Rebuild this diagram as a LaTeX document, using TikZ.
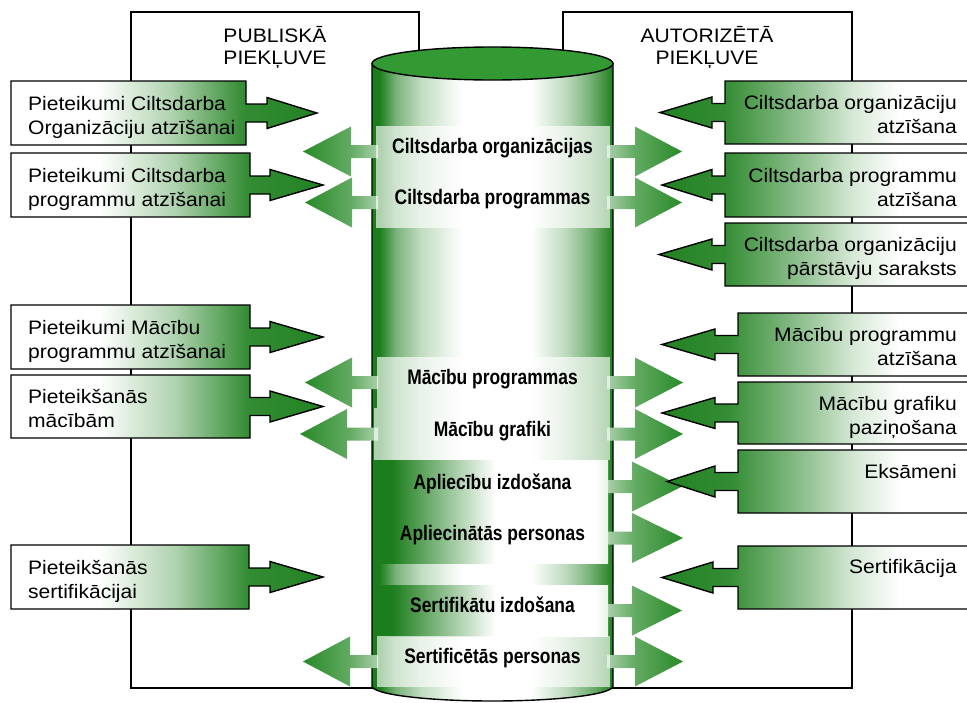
\documentclass[tikz,border=0pt]{standalone}
\usepackage{fontspec}
\setmainfont{Liberation Sans}[FakeStretch=1.08]
\newfontfamily\bandfont{Liberation Sans}[FakeStretch=0.83]
\definecolor{cylgreen}{RGB}{27,125,27}
\definecolor{topgreen}{RGB}{51,153,51}
\definecolor{cgreen}{RGB}{34,130,34}
\definecolor{agreen}{RGB}{40,138,40}
\colorlet{agA}{agreen!72!white}
\colorlet{agB}{agreen!40!white}
\colorlet{bandR}{white!90!cylgreen}
\colorlet{cyA}{cylgreen!85!white}
\colorlet{cyB}{cylgreen!58!white}
\colorlet{cyC}{cylgreen!28!white}
\colorlet{cyD}{cylgreen!8!white}
\colorlet{cgA}{cgreen!92!white}
\colorlet{cgB}{cgreen!45!white}
\colorlet{cgC}{cgreen!35!white}
\colorlet{cgD}{cgreen!18!white}
\pgfdeclarehorizontalshading{cylsh}{100bp}{color(0bp)=(cylgreen); color(26.5bp)=(cylgreen); color(30bp)=(cyB); color(35bp)=(cyC); color(41bp)=(cyD); color(44bp)=(white); color(58bp)=(white); color(65bp)=(cyC); color(70bp)=(cyB); color(73.5bp)=(cyA); color(75bp)=(cylgreen); color(100bp)=(cylgreen)}
\pgfdeclarehorizontalshading{bandsh}{100bp}{color(0bp)=(cylgreen); color(29bp)=(cylgreen); color(51bp)=(white); color(72bp)=(white); color(75bp)=(bandR); color(100bp)=(bandR)}
\pgfdeclarehorizontalshading{larrsh}{100bp}{color(0bp)=(agreen); color(25bp)=(agreen); color(57bp)=(agA); color(75bp)=(agB); color(100bp)=(agB)}
\pgfdeclarehorizontalshading{rarrsh}{100bp}{color(0bp)=(agB); color(25bp)=(agB); color(43bp)=(agA); color(75bp)=(agreen); color(100bp)=(agreen)}
\pgfdeclarehorizontalshading{lcallsh}{100bp}{color(0bp)=(white); color(39bp)=(white); color(51bp)=(cgC); color(63bp)=(cgA); color(75bp)=(cgreen); color(100bp)=(cgreen)}
\pgfdeclarehorizontalshading{rcallsh}{100bp}{color(0bp)=(cgreen); color(25bp)=(cgreen); color(35.5bp)=(cgA); color(49bp)=(cgB); color(56bp)=(cgD); color(63.5bp)=(white); color(100bp)=(white)}
\newcommand{\larr}[3]{\path[shading=larrsh] (378,#1-6.5) -- (#3,#1-6.5) -- (#3,#1-25) -- (#2,#1) -- (#3,#1+25) -- (#3,#1+6.5) -- (378,#1+6.5) -- cycle;}
\newcommand{\rarr}[3]{\path[shading=rarrsh] (607,#1-6.5) -- (#2,#1-6.5) -- (#2,#1-25) -- (#3,#1) -- (#2,#1+25) -- (#2,#1+6.5) -- (607,#1+6.5) -- cycle;}
\newcommand{\lcall}[6]{\draw[callout, shading=lcallsh] (11,#2) -- (#1,#2) -- (#1,#4-9) -- (#5,#4-9) -- (#5,#4-15.5) -- (#6,#4) -- (#5,#4+15.5) -- (#5,#4+9) -- (#1,#4+9) -- (#1,#3) -- (11,#3) -- cycle;}
\newcommand{\rcall}[6]{\draw[callout, shading=rcallsh] (972,#2) -- (#1,#2) -- (#1,#4-9) -- (#5,#4-9) -- (#5,#4-15.5) -- (#6,#4) -- (#5,#4+15.5) -- (#5,#4+9) -- (#1,#4+9) -- (#1,#3) -- (972,#3) -- cycle;}
\tikzset{
  callout/.style={draw=black, line width=1.4pt},
  frame/.style={draw=black, line width=1.4pt},
  heading/.style={align=center, inner sep=0pt, font=\fontsize{19.5}{22}\selectfont},
  ltext/.style={align=left, inner sep=0pt, anchor=base west, font=\fontsize{19.5}{24}\selectfont},
  rtext/.style={align=right, inner sep=0pt, anchor=base east, font=\fontsize{19.5}{24}\selectfont},
  btext/.style={inner sep=0pt, anchor=base, font=\bandfont\bfseries\fontsize{21}{24}\selectfont},
  lightband/.style={fill=white, fill opacity=0.65},
  darkband/.style={shading=bandsh}
}
\begin{document}
\begin{tikzpicture}[x=1pt,y=-1pt]
\useasboundingbox (0,0) rectangle (967,702);
% access frames
\draw[frame] (131,12) rectangle (419,688);
\draw[frame] (563,12) rectangle (852,688);
\node[heading, anchor=base] (pub) at (275,64) {PUBLISKĀ\\PIEKĻUVE};
\node[heading, anchor=base] (aut) at (707,64) {AUTORIZĒTĀ\\PIEKĻUVE};
% cylinder body
\draw[line width=1.4pt, shading=cylsh] (372,63.5) -- (372,686) arc[start angle=180, end angle=0, x radius=120.5, y radius=15] -- (613,63.5) -- cycle;
% arrows from the bands
\larr{151.5}{303}{351}
\larr{202.5}{305}{352}
\larr{382.5}{305}{352}
\larr{434}{300}{347}
\larr{661.5}{303}{350}
\rarr{151.5}{635}{682}
\rarr{202.5}{635}{682}
\rarr{382.5}{635}{683}
\rarr{434}{635}{683}
\rarr{486.5}{632}{682}
\rarr{538}{632}{683}
\rarr{610.5}{632}{682}
\rarr{661.5}{635}{683}
% bands
\path[lightband] (376,126) rectangle (610,177);
\path[lightband] (376,177) rectangle (610,228);
\path[lightband] (377,357) rectangle (610,408);
\path[lightband] (374,408) rectangle (610,460);
\path[darkband] (373,460) rectangle (608,513);
\path[darkband] (373,513) rectangle (608,563);
\path[darkband] (373,585) rectangle (608,636);
\path[lightband] (377,636) rectangle (610,687);
% top of cylinder
\draw[line width=1.4pt, fill=topgreen] (492.5,63.5) ellipse[x radius=120.5, y radius=16.5];
% band labels
\node[btext] (b1) at (492.5,153.5) {Ciltsdarba organizācijas};
\node[btext] (b2) at (492.5,204.5) {Ciltsdarba programmas};
\node[btext] (b3) at (492.5,384.5) {Mācību programmas};
\node[btext] (b4) at (492.5,436) {Mācību grafiki};
\node[btext] (b5) at (492.5,489.5) {Apliecību izdošana};
\node[btext] (b6) at (492.5,540) {Apliecinātās personas};
\node[btext] (b7) at (492.5,612.5) {Sertifikātu izdošana};
\node[btext] (b8) at (492.5,663.5) {Sertificētās personas};
% left callouts
\lcall{246}{81}{145}{113}{267}{317}
\lcall{250}{153}{217}{185}{270}{323}
\lcall{250}{305}{369}{337}{270}{323}
\lcall{250}{375}{438}{406.5}{270}{323}
\lcall{249}{545}{609}{577}{270}{323}
\node[ltext] (l1) at (28,134) {Pieteikumi Ciltsdarba\\Organizāciju atzīšanai};
\node[ltext] (l2) at (28,206) {Pieteikumi Ciltsdarba\\programmu atzīšanai};
\node[ltext] (l3) at (28,358) {Pieteikumi Mācību\\programmu atzīšanai};
\node[ltext] (l4) at (28,427.5) {Pieteikšanās\\mācībām};
\node[ltext] (l5) at (28,598) {Pieteikšanās\\sertifikācijai};
% right callouts
\rcall{725}{81}{144}{112.5}{712}{660}
\rcall{725}{153}{217}{185}{712}{662}
\rcall{725}{223}{286}{254.5}{712}{659}
\rcall{738}{313}{376}{344.5}{715}{662}
\rcall{738}{382}{444}{413}{715}{662}
\rcall{738}{450}{513}{481.5}{715}{667}
\rcall{738}{546}{609}{577.5}{713}{662}
\node[rtext] (r1) at (957,133.5) {Ciltsdarba organizāciju\\atzīšana};
\node[rtext] (r2) at (957,206) {Ciltsdarba programmu\\atzīšana};
\node[rtext] (r3) at (957,275.5) {Ciltsdarba organizāciju\\pārstāvju saraksts};
\node[rtext] (r4) at (957,365.5) {Mācību programmu\\atzīšana};
\node[rtext] (r5) at (957,434) {Mācību grafiku\\paziņošana};
\node[rtext] (r6) at (957,478) {Eksāmeni};
\node[rtext] (r7) at (957,573.5) {Sertifikācija};
\end{tikzpicture}
\end{document}
